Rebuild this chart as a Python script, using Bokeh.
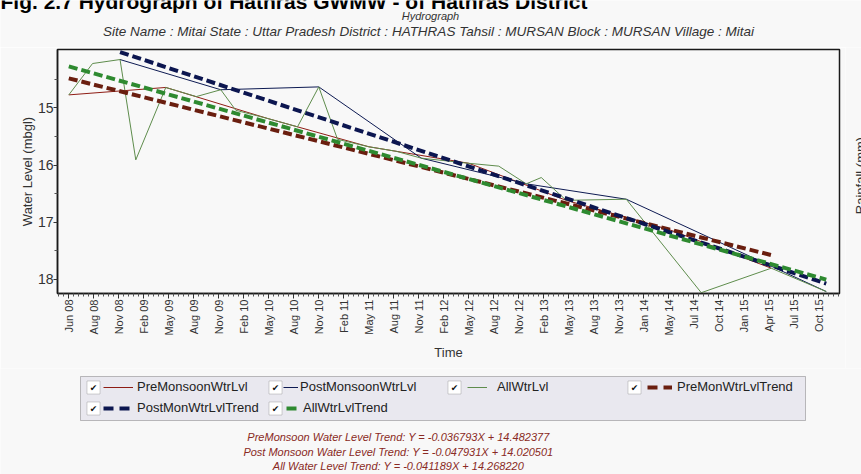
from math import pi
from bokeh.plotting import figure
from bokeh.layouts import column, row
from bokeh.models import (Range1d, FixedTicker, Label, Legend, LegendItem, BoxAnnotation)
from bokeh.embed import file_html
from bokeh.resources import INLINE

# ---------------- data ----------------
tick_labels = ["Jun 08", "Aug 08", "Nov 08", "Feb 09", "May 09", "Aug 09", "Nov 09",
               "Feb 10", "May 10", "Aug 10", "Nov 10", "Feb 11", "May 11", "Aug 11",
               "Nov 11", "Feb 12", "May 12", "Aug 12", "Nov 12", "Feb 13", "May 13",
               "Aug 13", "Nov 13", "Jan 14", "May 14", "Jul 14", "Oct 14", "Jan 15",
               "Apr 15", "Jul 15", "Oct 15"]

pre_x = [0.0, 3.88, 8.0, 12.0, 16.0, 19.9, 24.0, 28.1]
pre_y = [14.77, 14.64, 15.19, 15.68, 15.97, 16.62, 17.13, 17.81]

post_x = [2.05, 6.08, 10.0, 14.1, 18.3, 22.3, 30.3]
post_y = [14.15, 14.68, 14.63, 15.88, 16.33, 16.60, 18.22]

all_x = [0.0, 0.95, 2.05, 2.68, 3.88, 5.1, 6.08, 6.68, 8.0, 9.15, 10.0, 10.75, 12.0,
         13.1, 14.1, 16.0, 17.2, 18.3, 18.9, 19.9, 22.3, 25.3, 28.1, 30.3]
all_y = [14.77, 14.22, 14.15, 15.91, 14.64, 14.80, 14.68, 15.04, 15.19, 15.33, 14.63,
         15.55, 15.68, 15.76, 15.88, 15.97, 16.02, 16.33, 16.22, 16.62, 16.60,
         18.24, 17.81, 18.22]

pre_trend_x = [0.0, 28.1]
pre_trend_y = [14.48, 17.58]
post_trend_x = [2.05, 30.3]
post_trend_y = [14.02, 18.08]
all_trend_x = [0.0, 30.3]
all_trend_y = [14.27, 18.01]

series_names = ["PreMonsoonWtrLvl", "PostMonsoonWtrLvl", "AllWtrLvl",
                "PreMonWtrLvlTrend", "PostMonWtrLvlTrend", "AllWtrLvlTrend"]
series_x = [pre_x, post_x, all_x, pre_trend_x, post_trend_x, all_trend_x]
series_y = [pre_y, post_y, all_y, pre_trend_y, post_trend_y, all_trend_y]

heading_text = "Fig. 2.7 Hydrograph of Hathras GWMW - of Hathras District"
title_text = "Hydrograph"
subtitle_text = ("Site Name : Mitai State : Uttar Pradesh District : HATHRAS Tahsil : "
                 "MURSAN Block : MURSAN Village : Mitai")
equations = ["PreMonsoon Water Level Trend: Y = -0.036793X + 14.482377",
             "Post Monsoon Water Level Trend: Y = -0.047931X + 14.020501",
             "All Water Level Trend: Y = -0.041189X + 14.268220"]

# ---------------- styling ----------------
W = 861
SIDE_W = 16
FONT = "Liberation Sans"
BG = "#f8f8f8"
colors = ["#8e1c14", "#0d1a52", "#5e8c4c", "#6a1e0f", "#0c1650", "#2e8a30"]
widths = [1, 1, 1, 4, 4, 4]
DASH = "9 4"
dashes = ["solid", "solid", "solid", DASH, DASH, DASH]
legend_dashes = ["solid", "solid", "solid", "10 6", "10 6", "10 6"]

TOP_H = 47          # page rows 0..47
MAIN_H = 321        # page rows 47..368  (frame 49..293)
BOT_H = 474 - TOP_H - MAIN_H


def no_align(f):
    if "frame_align" in f.properties():
        f.frame_align = False
    return f


def blank(w, h, x0, y0):
    f = figure(width=w, height=h, output_backend="svg", toolbar_location=None,
               x_range=Range1d(x0, x0 + w), y_range=Range1d(y0 + h, y0),
               x_axis_location=None, y_axis_location=None,
               min_border=0, min_border_left=0, min_border_right=0,
               min_border_top=0, min_border_bottom=0,
               background_fill_color=BG, border_fill_color=BG, outline_line_color=None)
    f.xgrid.visible = False
    f.ygrid.visible = False
    return no_align(f)


# ---------------- top strip: headings ----------------
top = blank(W, TOP_H, 0, 0)
top.add_layout(Label(x=0, y=1, text=heading_text, text_align="left",
                     text_baseline="alphabetic", text_font=FONT,
                     text_font_style="bold", text_font_size="21px", text_color="#000000"))
top.add_layout(Label(x=430, y=15, text=title_text, text_align="center",
                     text_baseline="middle", text_font=FONT, text_font_style="italic",
                     text_font_size="11px", text_color="#333333"))
top.add_layout(Label(x=428, y=31, text=subtitle_text, text_align="center",
                     text_baseline="middle", text_font=FONT, text_font_style="italic",
                     text_font_size="13.5px", text_color="#333333"))

# ---------------- main plot ----------------
p = figure(width=W - SIDE_W, height=MAIN_H, output_backend="svg", toolbar_location=None,
           x_range=Range1d(-0.452, 30.83), y_range=Range1d(18.254, 13.974),
           min_border_left=57, min_border_right=W - SIDE_W - 839, min_border_top=2,
           min_border_bottom=MAIN_H - 2 - 244,
           background_fill_color=BG, border_fill_color=BG,
           outline_line_color="#1a1a1a", outline_line_width=1.5)
no_align(p)
p.xgrid.visible = False
p.ygrid.visible = False

for xs, ys, col, lw, ld in zip(series_x, series_y, colors, widths, dashes):
    p.line(xs, ys, line_color=col, line_width=lw, line_dash=ld)

n = len(tick_labels)
p.xaxis.ticker = FixedTicker(ticks=list(range(n)),
                             minor_ticks=[i + k / 5 for i in range(-1, n) for k in range(1, 5)])
p.xaxis.major_label_overrides = {i: s for i, s in enumerate(tick_labels)}
p.xaxis.major_label_orientation = pi / 2
p.xaxis.major_label_text_font = FONT
p.xaxis.major_label_text_font_size = "11px"
p.xaxis.major_label_text_color = "#333333"
p.xaxis.major_label_standoff = 1
p.xaxis.axis_label = "Time"
p.xaxis.axis_label_text_font = FONT
p.xaxis.axis_label_text_font_style = "normal"
p.xaxis.axis_label_text_font_size = "13px"
p.xaxis.axis_label_text_color = "#333333"
p.xaxis.axis_label_standoff = 6

p.yaxis.ticker = FixedTicker(ticks=[15, 16, 17, 18],
                             minor_ticks=[14.5, 15.5, 16.5, 17.5])
p.yaxis.major_label_text_font = FONT
p.yaxis.major_label_text_font_size = "14px"
p.yaxis.major_label_text_color = "#333333"
p.yaxis.major_label_standoff = 0
p.yaxis.axis_label = "Water Level (mbgl)"
p.yaxis.axis_label_text_font = FONT
p.yaxis.axis_label_text_font_style = "normal"
p.yaxis.axis_label_text_font_size = "13px"
p.yaxis.axis_label_text_color = "#333333"
p.yaxis.axis_label_standoff = 0

for ax in (p.xaxis, p.yaxis):
    ax.axis_line_color = "#1a1a1a"
    ax.axis_line_width = 1.5
    ax.major_tick_line_color = "#333333"
    ax.minor_tick_line_color = "#555555"
    ax.major_tick_out = 5
    ax.major_tick_in = 0
    ax.minor_tick_out = 3
    ax.minor_tick_in = 0
p.yaxis.major_tick_out = 4

# right strip: secondary axis title, cut by the page edge as in the original
side = blank(SIDE_W, MAIN_H, W - SIDE_W, TOP_H)
side.add_layout(Label(x=852, y=175, text="Rainfall (mm)", angle=pi / 2,
                      text_align="center", text_baseline="top", text_font=FONT,
                      text_font_size="13px", text_color="#333333"))

# ---------------- bottom strip: legend + equations ----------------
Y0 = TOP_H + MAIN_H
bot = blank(W, BOT_H, 0, Y0)

bot.add_layout(BoxAnnotation(left=80, right=805, top=376, bottom=420,
                             fill_color="#e9e8ef", fill_alpha=1.0,
                             line_color="#333333", line_width=1))

# (checkbox centre x, glyph start x, glyph width, text start x, row centre y)
leg_pos = [(93, 103, 30, 137, 387),
           (275, 283, 15, 300, 387),
           (454, 467, 20, 497, 387),
           (634, 647, 25, 677, 387),
           (93, 103, 30, 137, 408),
           (275, 286, 15, 303, 408)]
for name, xs, ys, col, lw, ld, (cbx, gx, gw, tx, yc) in zip(
        series_names, series_x, series_y, colors, widths, legend_dashes, leg_pos):
    # legend proxy (its data lie outside this strip's visible range)
    r = bot.line(xs, ys, line_color=col, line_width=lw, line_dash=ld)
    lg = Legend(items=[LegendItem(label=name, renderers=[r])],
                location=(gx, Y0 + BOT_H - (yc + 7)), orientation="horizontal",
                padding=0, margin=0, spacing=0, glyph_width=gw, glyph_height=14,
                label_height=14, label_standoff=tx - gx - gw,
                background_fill_alpha=0, border_line_alpha=0,
                label_text_font=FONT, label_text_font_size="13px",
                label_text_color="#222222", label_text_baseline="middle")
    bot.add_layout(lg, "center")
    bot.add_layout(BoxAnnotation(left=cbx - 6.5, right=cbx + 6.5, top=yc - 6.5,
                                 bottom=yc + 6.5, fill_color="white", fill_alpha=1.0,
                                 line_color="#6a6a6a", line_width=1))
    bot.add_layout(Label(x=cbx, y=yc, text="\u2714", text_align="center",
                         text_baseline="middle", text_font="DejaVu Sans",
                         text_font_size="9px", text_color="#111111"))

for txt, yc in zip(equations, [436, 451, 465]):
    bot.add_layout(Label(x=398, y=yc, text=txt, text_align="center",
                         text_baseline="middle", text_font=FONT,
                         text_font_style="italic", text_font_size="11px",
                         text_color="#8a2a24"))

layout = column(top, row(p, side, spacing=0), bot, spacing=0)
open("out.html", "w").write(file_html(layout, INLINE))
